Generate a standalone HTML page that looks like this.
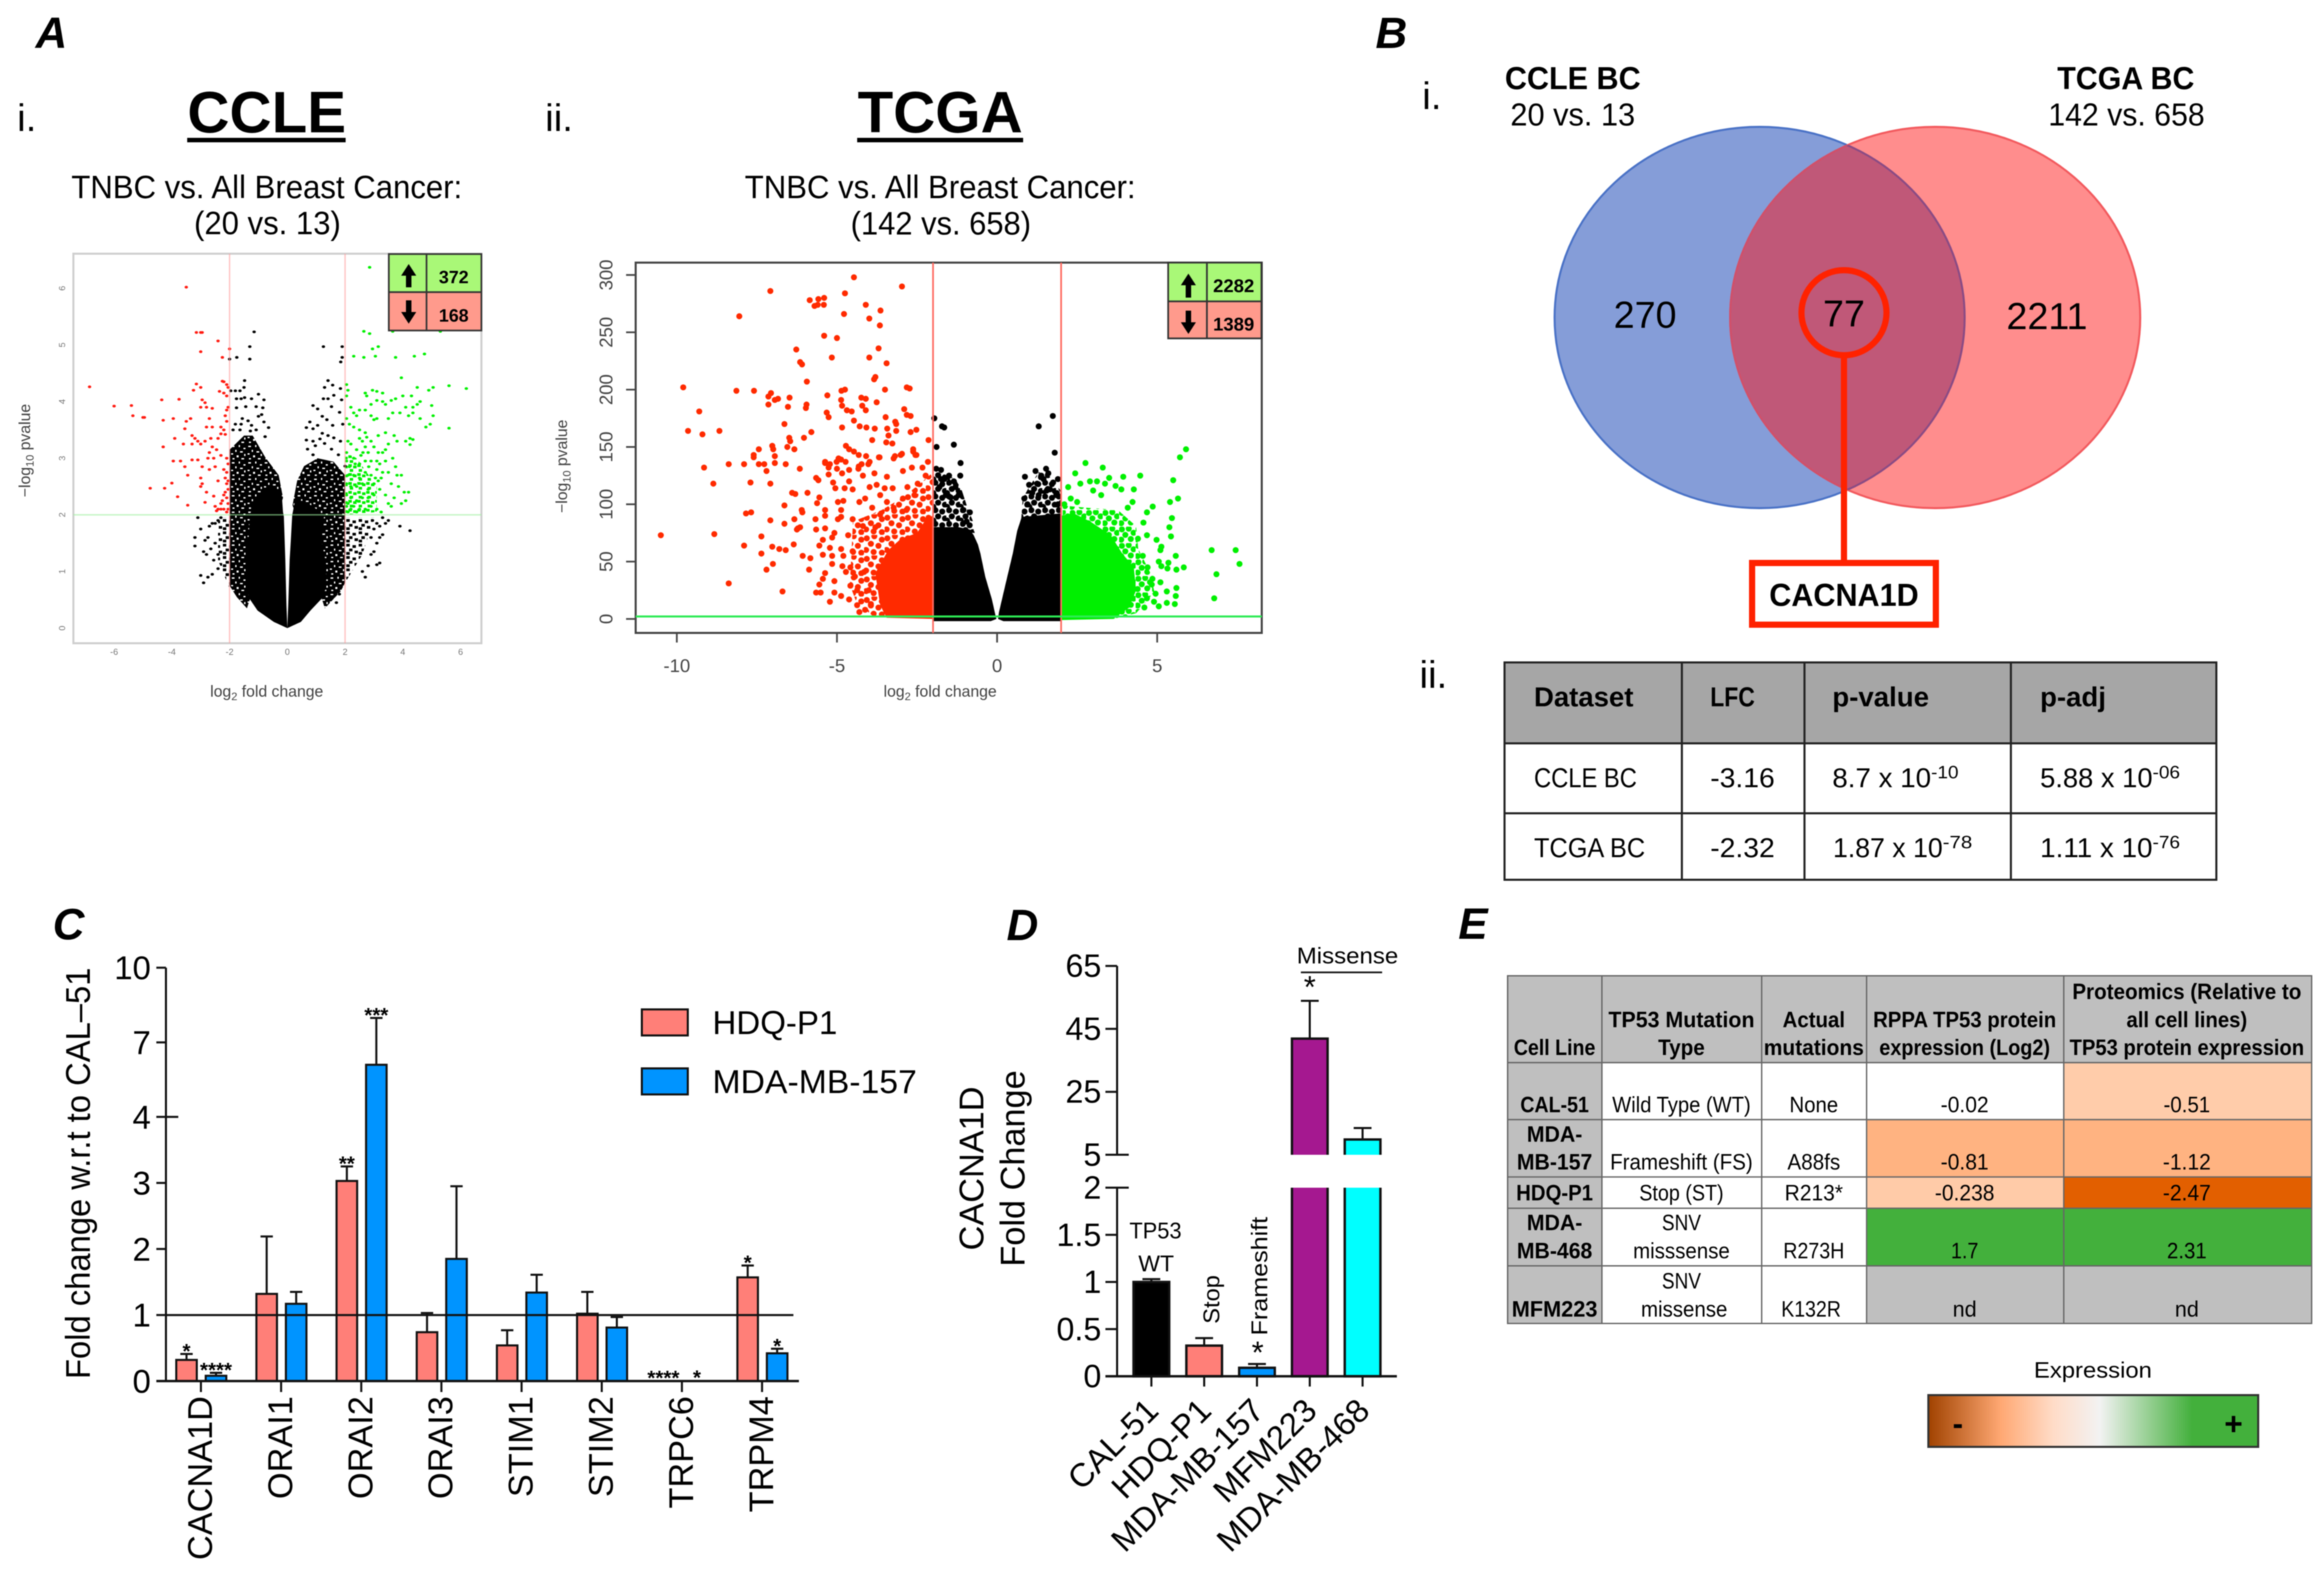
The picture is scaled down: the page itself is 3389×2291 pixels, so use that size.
<!DOCTYPE html>
<html lang="en">
<head>
<meta charset="utf-8">
<title>CACNA1D multi-panel figure</title>
<style>
html,body{margin:0;padding:0;background:#fff}
svg{display:block;filter:blur(.7px)}
text{font-family:"Liberation Sans",sans-serif;fill:#000}
</style>
</head>
<body>
<svg id="figure" xmlns="http://www.w3.org/2000/svg" width="3389" height="2291" viewBox="0 0 3389 2291">
<defs>
<pattern id="blackSpeckle" width="24" height="24" patternUnits="userSpaceOnUse">
<rect width="24" height="24" fill="#000"/>
<g fill="#fff"><rect x="2" y="2" width="4" height="2"/><rect x="12" y="1" width="2" height="3"/><rect x="19" y="5" width="3" height="2"/><rect x="7" y="8" width="2" height="3"/><rect x="14" y="10" width="4" height="2"/><rect x="1" y="13" width="3" height="2"/><rect x="20" y="14" width="2" height="3"/><rect x="9" y="16" width="3" height="3"/><rect x="16" y="20" width="4" height="2"/><rect x="3" y="20" width="3" height="2"/></g>
</pattern>
<pattern id="blackFringe" width="18" height="18" patternUnits="userSpaceOnUse">
<rect x="1" y="1" width="5" height="4"/><rect x="10" y="3" width="5" height="4"/><rect x="5" y="8" width="5" height="4"/><rect x="13" y="11" width="5" height="4"/><rect x="1" y="13" width="5" height="4"/>
</pattern>
<pattern id="blackBlob" width="20" height="20" patternUnits="userSpaceOnUse">
<circle cx="4" cy="4" r="4.4"/><circle cx="14" cy="6" r="4.4"/><circle cx="8" cy="13" r="4.4"/><circle cx="18" cy="16" r="4.4"/><circle cx="1" cy="19" r="4.4"/>
</pattern>
<pattern id="greenFringe" width="13" height="13" patternUnits="userSpaceOnUse" fill="#00f000">
<rect x="1" y="1" width="5" height="4"/><rect x="8" y="3" width="5" height="4"/><rect x="3" y="8" width="5" height="4"/>
</pattern>
<pattern id="redSpeckle" width="30" height="30" patternUnits="userSpaceOnUse" fill="#ff2a00">
<circle cx="4" cy="5" r="4.4"/><circle cx="15" cy="2" r="4.4"/><circle cx="26" cy="7" r="4.4"/><circle cx="10" cy="13" r="4.4"/><circle cx="21" cy="16" r="4.4"/><circle cx="3" cy="22" r="4.4"/><circle cx="14" cy="25" r="4.4"/><circle cx="26" cy="26" r="4.4"/>
</pattern>
<pattern id="greenSpeckle" width="24" height="24" patternUnits="userSpaceOnUse" fill="#00f000">
<circle cx="4" cy="4" r="4.4"/><circle cx="14" cy="3" r="4.4"/><circle cx="21" cy="9" r="4.4"/><circle cx="9" cy="12" r="4.4"/><circle cx="17" cy="18" r="4.4"/><circle cx="3" cy="19" r="4.4"/>
</pattern>
<clipPath id="blueClip"><ellipse cx="2566" cy="463" rx="299" ry="278"/></clipPath>
<clipPath id="redClip"><ellipse cx="2822" cy="463" rx="299" ry="278"/></clipPath>
<linearGradient id="expressionGradient" x1="0" x2="1" y1="0" y2="0">
<stop offset="0" stop-color="#a04200"/><stop offset=".22" stop-color="#ffa873"/><stop offset=".38" stop-color="#ffdcc8"/><stop offset=".52" stop-color="#f2f2f2"/><stop offset=".8" stop-color="#43b03c"/><stop offset="1" stop-color="#43b03c"/>
</linearGradient>
</defs>

<!-- Panel letters -->
<text x="75" y="70" font-size="64" font-weight="bold" font-style="italic" text-anchor="middle">A</text>
<text x="2029" y="70" font-size="64" font-weight="bold" font-style="italic" text-anchor="middle">B</text>
<text x="100" y="1370" font-size="64" font-weight="bold" font-style="italic" text-anchor="middle">C</text>
<text x="1491" y="1371" font-size="64" font-weight="bold" font-style="italic" text-anchor="middle">D</text>
<text x="2148" y="1369" font-size="64" font-weight="bold" font-style="italic" text-anchor="middle">E</text>

<!-- Panel A titles -->
<text x="25" y="191" font-size="56">i.</text>
<text x="795" y="191" font-size="56">ii.</text>
<text x="389" y="193" font-size="85" font-weight="bold" text-anchor="middle">CCLE</text>
<rect x="273" y="201" width="231" height="6.5" fill="#000"/>
<text x="1371" y="193" font-size="85" font-weight="bold" text-anchor="middle">TCGA</text>
<rect x="1250" y="201" width="242" height="6.5" fill="#000"/>
<text x="389" y="289" font-size="47" text-anchor="middle" textLength="570" lengthAdjust="spacingAndGlyphs">TNBC vs. All Breast Cancer:</text>
<text x="390" y="341.5" font-size="47" text-anchor="middle" textLength="214" lengthAdjust="spacingAndGlyphs">(20 vs. 13)</text>
<text x="1371" y="289" font-size="47" text-anchor="middle" textLength="570" lengthAdjust="spacingAndGlyphs">TNBC vs. All Breast Cancer:</text>
<text x="1372" y="342" font-size="47" text-anchor="middle" textLength="263" lengthAdjust="spacingAndGlyphs">(142 vs. 658)</text>

<g id="ccle-plot"></g>
<g id="tcga-plot"></g>

<!-- Inset count tables -->
<g>
<rect x="567" y="370.5" width="135" height="55.5" fill="#a9f877"/>
<rect x="567" y="426" width="135" height="56" fill="#ff9a8c"/>
<path d="M567 370.5H702V482H567ZM567 426H702M622 370.5V482" fill="none" stroke="#333" stroke-width="2.5"/>
<path d="M596 385 L607 402 L600 402 L600 419 L592 419 L592 402 L585 402Z" fill="#000"/>
<path d="M596 472 L607 455 L600 455 L600 438 L592 438 L592 455 L585 455Z" fill="#000"/>
<text x="661.7" y="413" font-size="26" font-weight="bold" text-anchor="middle">372</text>
<text x="661.7" y="469" font-size="26" font-weight="bold" text-anchor="middle">168</text>
</g>
<g>
<rect x="1703.5" y="383" width="136" height="56.5" fill="#a9f877"/>
<rect x="1703.5" y="439.5" width="136" height="54" fill="#ff9a8c"/>
<path d="M1703.5 383H1839.5V493.5H1703.5ZM1703.5 439.5H1839.5M1760 383V493.5" fill="none" stroke="#333" stroke-width="2.5"/>
<path d="M1733 399 L1744 416 L1737 416 L1737 434 L1729 434 L1729 416 L1722 416Z" fill="#000"/>
<path d="M1733 487 L1744 470 L1737 470 L1737 453 L1729 453 L1729 470 L1722 470Z" fill="#000"/>
<text x="1799" y="426" font-size="27" font-weight="bold" text-anchor="middle">2282</text>
<text x="1799" y="482" font-size="27" font-weight="bold" text-anchor="middle">1389</text>
</g>

<!-- Panel B venn -->
<text x="2074" y="159" font-size="56">i.</text>
<text x="2070" y="1003" font-size="56">ii.</text>
<text x="2293.5" y="130" font-size="46" font-weight="bold" text-anchor="middle" textLength="198" lengthAdjust="spacingAndGlyphs">CCLE BC</text>
<text x="2293.5" y="183" font-size="46" text-anchor="middle" textLength="182" lengthAdjust="spacingAndGlyphs">20 vs. 13</text>
<text x="3100" y="130" font-size="46" font-weight="bold" text-anchor="middle" textLength="200" lengthAdjust="spacingAndGlyphs">TCGA BC</text>
<text x="3101" y="183" font-size="46" text-anchor="middle" textLength="228" lengthAdjust="spacingAndGlyphs">142 vs. 658</text>
<ellipse cx="2566" cy="463" rx="299" ry="278" fill="#859dd8" stroke="#4a72c6" stroke-width="3"/>
<ellipse cx="2822" cy="463" rx="299" ry="278" fill="#ff8d8d" stroke="#f25a5e" stroke-width="3"/>
<ellipse cx="2822" cy="463" rx="299" ry="278" fill="#c05878" stroke="#d0506a" stroke-width="3" clip-path="url(#blueClip)"/>
<ellipse cx="2566" cy="463" rx="299" ry="278" fill="none" stroke="#8a4b84" stroke-width="3" clip-path="url(#redClip)"/>
<text x="2399" y="478" font-size="55" text-anchor="middle">270</text>
<text x="2689" y="476" font-size="55" text-anchor="middle">77</text>
<text x="2985" y="480" font-size="55" text-anchor="middle">2211</text>
<circle cx="2689" cy="456" r="62" fill="none" stroke="#ff2200" stroke-width="9"/>
<line x1="2689" y1="522" x2="2689" y2="817" stroke="#ff2200" stroke-width="9"/>
<rect x="2555" y="821" width="268" height="90" fill="#fff" stroke="#ff2200" stroke-width="9"/>
<text x="2689" y="883.5" font-size="46" font-weight="bold" text-anchor="middle" textLength="218" lengthAdjust="spacingAndGlyphs">CACNA1D</text>

<!-- Panel B table -->
<g>
<rect x="2194" y="966" width="1038" height="118" fill="#a6a6a6"/>
<path d="M2194 966H3232V1283H2194ZM2194 1084H3232M2194 1186H3232M2452.6 966V1283M2631.4 966V1283M2932.4 966V1283" fill="none" stroke="#222" stroke-width="3"/>
<text x="2237" y="1030" font-size="40" font-weight="bold" textLength="145" lengthAdjust="spacingAndGlyphs">Dataset</text>
<text x="2494" y="1030" font-size="40" font-weight="bold" textLength="65" lengthAdjust="spacingAndGlyphs">LFC</text>
<text x="2672" y="1030" font-size="40" font-weight="bold" textLength="141" lengthAdjust="spacingAndGlyphs">p-value</text>
<text x="2975" y="1030" font-size="40" font-weight="bold" textLength="96" lengthAdjust="spacingAndGlyphs">p-adj</text>
<text x="2237" y="1148" font-size="40" textLength="150" lengthAdjust="spacingAndGlyphs">CCLE BC</text>
<text x="2494" y="1148" font-size="40" textLength="94" lengthAdjust="spacingAndGlyphs">-3.16</text>
<text x="2672" y="1148" font-size="40" textLength="144" lengthAdjust="spacingAndGlyphs">8.7 x 10</text>
<text x="2816" y="1135" font-size="26" textLength="40" lengthAdjust="spacingAndGlyphs">-10</text>
<text x="2975" y="1148" font-size="40" textLength="164" lengthAdjust="spacingAndGlyphs">5.88 x 10</text>
<text x="3139" y="1135" font-size="26" textLength="40" lengthAdjust="spacingAndGlyphs">-06</text>
<text x="2237" y="1250" font-size="40" textLength="162" lengthAdjust="spacingAndGlyphs">TCGA BC</text>
<text x="2494" y="1250" font-size="40" textLength="94" lengthAdjust="spacingAndGlyphs">-2.32</text>
<text x="2673" y="1250" font-size="40" textLength="160" lengthAdjust="spacingAndGlyphs">1.87 x 10</text>
<text x="2833" y="1237" font-size="26" textLength="43" lengthAdjust="spacingAndGlyphs">-78</text>
<text x="2975" y="1250" font-size="40" textLength="164" lengthAdjust="spacingAndGlyphs">1.11 x 10</text>
<text x="3139" y="1237" font-size="26" textLength="40" lengthAdjust="spacingAndGlyphs">-76</text>
</g>

<g id="bar-c"></g>
<g id="bar-d"></g>

<!-- Panel E table -->
<g font-size="32">
<rect x="2198.5" y="1423" width="1172.5" height="507" fill="#fff"/>
<rect x="2198.5" y="1423" width="1172.5" height="126.6" fill="#bfbfbf"/>
<rect x="2198.5" y="1549.6" width="137.5" height="380.4" fill="#bfbfbf"/>
<rect x="3009.5" y="1549.6" width="361.5" height="83.2" fill="#ffccaa"/>
<rect x="2722" y="1632.8" width="649" height="83.6" fill="#ffb381"/>
<rect x="2722" y="1716.4" width="287.5" height="45.6" fill="#ffcba8"/>
<rect x="3009.5" y="1716.4" width="361.5" height="45.6" fill="#e25f00"/>
<rect x="2722" y="1762" width="649" height="84" fill="#43b03c"/>
<rect x="2722" y="1846" width="649" height="84" fill="#bfbfbf"/>
<path d="M2198.5 1423H3371V1930H2198.5ZM2198.5 1549.6H3371M2198.5 1632.8H3371M2198.5 1716.4H3371M2198.5 1762H3371M2198.5 1846H3371M2336 1423V1930M2569 1423V1930M2722 1423V1930M3009.5 1423V1930" fill="none" stroke="#666" stroke-width="2"/>
<g font-weight="bold" text-anchor="middle">
<text x="2267" y="1538.6" textLength="119" lengthAdjust="spacingAndGlyphs">Cell Line</text>
<text x="2452" y="1498" textLength="213" lengthAdjust="spacingAndGlyphs">TP53 Mutation</text>
<text x="2452" y="1538.6" textLength="68" lengthAdjust="spacingAndGlyphs">Type</text>
<text x="2645" y="1498" textLength="91" lengthAdjust="spacingAndGlyphs">Actual</text>
<text x="2645" y="1538.6" textLength="146" lengthAdjust="spacingAndGlyphs">mutations</text>
<text x="2865" y="1498" textLength="267" lengthAdjust="spacingAndGlyphs">RPPA TP53 protein</text>
<text x="2865" y="1538.6" textLength="249" lengthAdjust="spacingAndGlyphs">expression (Log2)</text>
<text x="3189" y="1457" textLength="334" lengthAdjust="spacingAndGlyphs">Proteomics (Relative to</text>
<text x="3189" y="1498" textLength="176" lengthAdjust="spacingAndGlyphs">all cell lines)</text>
<text x="3189" y="1538.6" textLength="342" lengthAdjust="spacingAndGlyphs">TP53 protein expression</text>
<text x="2267" y="1622" textLength="100" lengthAdjust="spacingAndGlyphs">CAL-51</text>
<text x="2267" y="1665" textLength="81" lengthAdjust="spacingAndGlyphs">MDA-</text>
<text x="2267" y="1705.5" textLength="110" lengthAdjust="spacingAndGlyphs">MB-157</text>
<text x="2267" y="1750.4" textLength="112" lengthAdjust="spacingAndGlyphs">HDQ-P1</text>
<text x="2267" y="1794" textLength="81" lengthAdjust="spacingAndGlyphs">MDA-</text>
<text x="2267" y="1835" textLength="110" lengthAdjust="spacingAndGlyphs">MB-468</text>
<text x="2267" y="1920" textLength="125" lengthAdjust="spacingAndGlyphs">MFM223</text>
</g>
<g text-anchor="middle">
<text x="2452" y="1622" textLength="202" lengthAdjust="spacingAndGlyphs">Wild Type (WT)</text>
<text x="2645" y="1622" textLength="71" lengthAdjust="spacingAndGlyphs">None</text>
<text x="2865" y="1622" textLength="70" lengthAdjust="spacingAndGlyphs">-0.02</text>
<text x="3189" y="1622" textLength="68" lengthAdjust="spacingAndGlyphs">-0.51</text>
<text x="2452" y="1705.5" textLength="208" lengthAdjust="spacingAndGlyphs">Frameshift (FS)</text>
<text x="2645" y="1705.5" textLength="77" lengthAdjust="spacingAndGlyphs">A88fs</text>
<text x="2865" y="1705.5" textLength="70" lengthAdjust="spacingAndGlyphs">-0.81</text>
<text x="3189" y="1705.5" textLength="70" lengthAdjust="spacingAndGlyphs">-1.12</text>
<text x="2452" y="1750.4" textLength="123" lengthAdjust="spacingAndGlyphs">Stop (ST)</text>
<text x="2645" y="1750.4" textLength="85" lengthAdjust="spacingAndGlyphs">R213*</text>
<text x="2865" y="1750.4" textLength="87" lengthAdjust="spacingAndGlyphs">-0.238</text>
<text x="3189" y="1750.4" textLength="70" lengthAdjust="spacingAndGlyphs">-2.47</text>
<text x="2452" y="1794" textLength="57" lengthAdjust="spacingAndGlyphs">SNV</text>
<text x="2452" y="1835" textLength="141" lengthAdjust="spacingAndGlyphs">misssense</text>
<text x="2645" y="1835" textLength="89" lengthAdjust="spacingAndGlyphs">R273H</text>
<text x="2865" y="1835" textLength="40" lengthAdjust="spacingAndGlyphs">1.7</text>
<text x="3189" y="1835" textLength="58" lengthAdjust="spacingAndGlyphs">2.31</text>
<text x="2452" y="1879" textLength="57" lengthAdjust="spacingAndGlyphs">SNV</text>
<text x="2456" y="1920" textLength="126" lengthAdjust="spacingAndGlyphs">missense</text>
<text x="2641" y="1920" textLength="87" lengthAdjust="spacingAndGlyphs">K132R</text>
<text x="2865" y="1920" textLength="35" lengthAdjust="spacingAndGlyphs">nd</text>
<text x="3189" y="1920" textLength="35" lengthAdjust="spacingAndGlyphs">nd</text>
</g>
</g>

<!-- Colour key -->
<g>
<text x="3052" y="2009" font-size="32" text-anchor="middle" textLength="172" lengthAdjust="spacingAndGlyphs">Expression</text>
<rect x="2812" y="2034.5" width="481" height="75.5" fill="url(#expressionGradient)" stroke="#333" stroke-width="3"/>
<text x="2855" y="2092" font-size="46" font-weight="bold" text-anchor="middle">-</text>
<text x="3257" y="2092" font-size="46" font-weight="bold" text-anchor="middle">+</text>
</g>
</svg>

<script>
/* ---------- CCLE volcano data (log2 fold change, -log10 p) ---------- */
const ccleXTicks = [-6,-4,-2,0,2,4,6];
const ccleYTicks = [0,1,2,3,4,5,6];
const ccleDown = [[-6.85,4.26],[-6,3.92],[-5.4,3.93],[-5.35,3.75],[-5,3.72],[-4.95,3.72],[-4.35,4.03],[-4.3,3.67],[-3.95,3.7],[-3.75,4.04],[-3.5,6.02],[-3.15,5.22],[-3,5.22],[-2.95,5.22],[-3,4.88],[-2.4,5.07],[-2.25,4.78],[-2,4.93],[-3.15,4.31],[-3,4.25],[-3.25,4.2],[-2.25,4.36],[-2.2,4.35],[-2.1,4.3],[-2.05,4.25],[-2.35,4.18],[-2.2,4.15],[-2.1,4.1],[-2.95,4.03],[-2.85,3.98],[-3,3.9],[-2.8,3.9],[-2.6,3.88],[-2.05,3.9],[-2.1,3.85],[-2.15,3.75],[-3.35,3.7],[-3.5,3.65],[-3.55,3.52],[-2.7,3.7],[-2.8,3.55],[-2.6,3.55],[-2.3,3.55],[-2.2,3.5],[-2.1,3.65],[-3.3,3.4],[-3.2,3.35],[-3.1,3.3],[-3.3,3.25],[-3,3.25],[-2.85,3.3],[-2.65,3.35],[-2.4,3.35],[-2.3,3.43],[-2.15,3.42],[-2.6,3.2],[-2.45,3.15],[-2.7,3.1],[-2.75,3],[-2.55,3],[-2.3,3.05],[-2.1,3],[-3.9,3.35],[-3.6,3.25],[-4.3,3.2],[-3.95,2.95],[-3.7,2.95],[-3.3,2.97],[-3.1,2.97],[-2.95,2.85],[-3.55,2.85],[-3.45,2.7],[-3,2.65],[-2.7,2.8],[-2.5,2.85],[-2.2,2.8],[-2.1,2.75],[-2.05,2.9],[-2.15,2.65],[-2.4,2.6],[-2.1,2.55],[-2.05,2.6],[-3,2.5],[-2.95,2.55],[-4.75,2.47],[-4.25,2.47],[-4,2.56],[-3.8,2.32],[-3.45,2.17],[-2.85,2.22],[-2.8,2.4],[-2.55,2.33],[-2.5,2.15],[-2.4,2.1],[-2.3,2.2],[-2.2,2.35],[-2.15,2.4],[-2.05,2.45],[-2.1,2.3],[-2.25,2.25],[-2.05,2.2],[-2.2,2.1],[-2.45,2.07],[-2.1,2.05],[-2.05,2.1],[-2.3,2.1]];
const ccleUp = [[2.85,6.37],[3.65,5.24],[5.3,5.24],[2.65,5.24],[2.85,5.2],[3.15,4.97],[2.95,4.93],[2.3,4.8],[2.65,4.78],[3.05,4.8],[3.75,4.78],[4.4,4.8],[4.75,4.84],[3.95,4.42],[2.05,4.3],[2.1,4.2],[2.05,4.1],[2.95,4.2],[3.1,4.18],[3.3,4.15],[2.7,4.15],[2.75,4.1],[3.6,4.02],[3.75,4.05],[4,4.1],[4.5,4.25],[4.9,4.2],[5.05,4.25],[5.6,4.28],[6.2,4.23],[4.6,4],[4.3,4.1],[5,3.93],[4.1,3.9],[4.35,3.9],[4.5,3.95],[3.1,4.02],[3.3,4],[3.4,3.95],[2.2,3.9],[2.5,3.85],[2.7,3.85],[2.9,3.95],[2.4,3.75],[2.3,3.8],[5.05,3.75],[4.95,3.6],[4.8,3.55],[5.6,3.53],[4.6,3.7],[4.35,3.8],[4.2,3.75],[3.9,3.8],[3.65,3.8],[3.5,3.7],[3.1,3.7],[3,3.68],[2.9,3.75],[4.1,3.3],[4.25,3.35],[4.35,3.33],[4.25,3.24],[2.05,3.7],[2.15,3.6],[2.3,3.55],[2.5,3.5],[2.7,3.45],[2.75,3.37],[2.5,3.35],[2.6,3.3],[2.7,3.2],[2.9,3.3],[3.15,3.4],[3.4,3.45],[3.7,3.4],[3.8,3.3],[3.5,3.25],[3.4,3.15],[3.3,3.1],[3,3.2],[3.15,3.1],[2.1,3.3],[2.2,3.25],[2.05,3.1],[2.4,3.15],[2.55,3.05],[2.3,3],[2.05,2.95],[2.15,2.85],[2.35,2.9],[2.5,2.9],[2.7,2.95],[2.9,2.95],[3.1,2.95],[3.4,2.95],[3.65,3],[3.75,2.85],[3.5,2.75],[3.3,2.75],[3.1,2.8],[2.9,2.7],[2.7,2.75],[2.5,2.65],[2.3,2.7],[2.1,2.7],[2.05,2.55],[2.2,2.5],[2.4,2.5],[2.6,2.55],[2.8,2.45],[3,2.55],[3.2,2.45],[3.4,2.35],[3.6,2.55],[3.8,2.7],[3.95,2.7],[3.85,2.5],[4.05,2.4],[4.2,2.4],[3.95,2.2],[4.1,2.25],[3.7,2.3],[3.5,2.2],[3.6,2.15],[3,2.35],[2.8,2.3],[2.6,2.3],[2.4,2.25],[2.2,2.3],[2.05,2.35],[2.1,2.2],[2.3,2.15],[2.5,2.1],[2.7,2.1],[2.9,2.15],[3.1,2.1],[3.25,2.05],[2.1,2.05],[2.05,2.15],[2.2,2.1],[2.4,2.05],[3.05,2.65],[3.15,2.6],[3.25,2.65],[2.82,2.85],[3.2,2.9],[2.62,3.1],[2.8,3.1]];
const ccleOther = [[-1.15,5.23],[-1.3,4.97],[-1.3,4.75],[-2,4.75],[-1.75,4.78],[1.25,4.97],[1.9,4.97],[1.9,4.78],[1.85,4.7],[-1.96,4.19],[-1.8,4.19],[-1.64,4.19],[-1.5,4.25],[-1.48,4.37],[-1.76,4.05],[-1.6,4.05],[-1.48,4.07],[-1.24,4.05],[-1,4.13],[-.81,4.03],[-1.76,3.89],[-1.44,3.91],[-1.08,3.91],[-.85,3.89],[-.89,3.77],[-1,3.74],[-1.56,3.7],[-1.36,3.66],[-1.8,3.6],[-1.6,3.6],[-1.24,3.58],[-1.08,3.5],[-.81,3.64],[-.65,3.54],[-1.88,3.5],[-1.64,3.5],[-1.28,3.48],[-.77,3.38],[1.41,4.37],[1.57,4.29],[1.29,4.25],[1.84,4.23],[1.25,4.05],[1.41,4.05],[1.61,4.11],[1.88,4.03],[.89,3.93],[1.05,3.87],[1.53,3.91],[1.81,3.81],[1.21,3.74],[1.37,3.68],[1.57,3.58],[1.92,3.6],[.78,3.64],[.66,3.54],[.89,3.52],[1.05,3.58],[1.21,3.44],[1.41,3.4],[1.61,3.36],[1.84,3.3],[.66,3.32],[.89,3.3],[1.13,3.34],[.7,3.16],[.97,3.22],[1.29,3.26],[1.53,3.16],[1.77,3.06],[.89,3.06],[2,2.86],[-3.1,1.95],[-3.2,1.6],[-3.2,1.45],[-3,1.75],[-2.85,1.55],[-2.75,1.6],[-2.7,1.8],[-2.6,1.85],[-2.5,1.85],[-2.4,1.9],[-2.3,1.95],[-2.9,1.35],[-2.8,1.3],[-2.65,1.4],[-2.5,1.5],[-2.4,1.3],[-2.55,1.2],[-2.4,1.05],[-2.6,.95],[-2.75,.9],[-2.9,.8],[-3,.93],[3.9,1.8],[4.25,1.72],[3.5,1.9],[3.4,1.85],[3.3,1.95],[3.2,1.8],[3.2,1.6],[3.3,1.65],[3,1.75],[3.1,1.5],[2.9,1.6],[2.9,1.3],[3,1.35],[3.2,1.15],[3.1,1.12],[2.8,1.1],[2.7,.9],[2.6,1],[1.7,.45],[1.8,.6],[2.95,1.9],[3.1,1.85]];
const ccleDenseLeftX = [0,-.47,-1.03,-1.31,-1.43,-1.43,-1.35,-1.3,-1.2,-.85,-.5,-.2,-.15,-.12,-.07,-.03];
const ccleDenseLeftP = [0,.11,.31,.52,.72,1.12,1.53,1.97,2.2,2.4,2.5,2.4,2.05,1.97,1.2,.4];
const ccleDenseRightX = [0,.47,.8,1.19,1.35,1.35,1.19,1.27,.9,.5,.25,.17,.08,.03];
const ccleDenseRightP = [0,.11,.31,.52,.72,1.12,1.53,1.97,2.15,2.25,2.2,2,1.2,.4];
const ccleLooseLeftX = [-1.4,-1.75,-2,-2,-1.5,-1.2,-.77,-.3,-.15];
const ccleLooseLeftP = [.35,.55,.75,3.15,3.4,3.4,3.02,2.7,2.3];
const ccleLooseRightX = [1.3,1.85,2,2,1.6,1.05,.58,.34,.18];
const ccleLooseRightP = [.35,.65,.8,2.7,2.94,3,2.86,2.6,2.17];
const ccleFringeLeftX = [-2,-2.4,-2.4,-2];
const ccleFringeLeftP = [.7,1.2,1.95,1.95];
const ccleFringeRightX = [2,2.6,3,2];
const ccleFringeRightP = [.8,1.3,1.95,1.95];
const ccleUpCoreX = [2,2,2.4,3.1,3.1];
const ccleUpCoreP = [2,3.1,3,2.5,2.05];

/* ---------- TCGA volcano data (log2 fold change, -log10 p) ---------- */
const tcgaXTicks = [-10,-5,0,5];
const tcgaYTicks = [0,50,100,150,200,250,300];
const tcgaDown = [[-10.5,73],[-9.8,202],[-9.65,164],[-9.3,181],[-9.2,161],[-9.15,132],[-8.86,118],[-8.83,74],[-8.67,164],[-8.38,135],[-8.38,31],[-8.14,199],[-8.05,264],[-7.9,135],[-7.9,64],[-7.84,92],[-7.68,93],[-7.7,119],[-7.59,199],[-7.6,143],[-7.6,141],[-7.44,148],[-7.44,135],[-7.36,72],[-7.36,57],[-7.27,135],[-7.2,129],[-7.2,43],[-7.08,286],[-7.14,187],[-7.06,197],[-7.14,194],[-7.02,151],[-6.99,148],[-7.08,118],[-7.08,86],[-7.02,63],[-7,48],[-6.94,142],[-6.94,136],[-6.94,191],[-6.84,192],[-6.8,61],[-6.7,24],[-6.64,99],[-6.64,83],[-6.64,170],[-6.6,135],[-6.55,150],[-6.53,185],[-6.48,193],[-6.49,158],[-6.46,155],[-6.33,148],[-6.27,235],[-6.15,224],[-6.09,222],[-6.16,131],[-6.15,80],[-6.07,55],[-5.97,184],[-5.94,207],[-6.03,158],[-5.95,187],[-5.8,163],[-5.85,278],[-5.7,273],[-5.58,279],[-5.4,280],[-5.6,274],[-5.41,274],[-5.4,247],[-5,245],[-5.16,228],[-4.75,284],[-4.78,266],[-4.47,298],[-4.1,274],[-3.99,262],[-3.64,269],[-3.66,256],[-3.7,236],[-3.99,228],[-3.45,223],[-3.8,211],[-3.84,209],[-2.97,290],[-3.5,200],[-2.82,202],[-2.73,201],[-5.3,195],[-4.86,199],[-4.75,200],[-4.87,191],[-4.84,186],[-5.32,180],[-5.26,176],[-4.69,182],[-4.54,181],[-4.24,193],[-4.1,192],[-4.21,186],[-4.1,182],[-3.76,189],[-3.48,176],[-2.9,183],[-2.82,178],[-2.7,177],[-3.18,172],[-3.15,170],[-2.52,165],[-2.7,163],[-4.47,173],[-4.84,167],[-4.29,168],[-4.08,167],[-3.82,166],[-3.9,156],[-3.43,166],[-3.39,160],[-3.15,164],[-3.46,154],[-3.27,153],[-4.72,151],[-4.62,148],[-4.47,146],[-4.32,143],[-3.67,141],[-4.09,142],[-4.95,140],[-5.37,136],[-5.22,135],[-5,131],[-4.84,127],[-4.32,133],[-4.02,135],[-3.19,142],[-2.97,144],[-2.62,148],[-2.52,143],[-2.14,156],[-5.37,137],[-5.26,132],[-5.01,137],[-4.87,139],[-4.73,137],[-4.62,130],[-4.33,131],[-4.23,135],[-3.98,137],[-3.69,141],[-3.23,140],[-3.01,143],[-2.62,146],[-2.55,143],[-2.16,137],[-2.94,129],[-2.66,132],[-2.33,132],[-2.23,125],[-3.44,124],[-3.83,127],[-4.19,125],[-5.26,126],[-5.65,123],[-5.58,121],[-5.12,119],[-4.62,120],[-5.05,114],[-4.76,114],[-4.51,113],[-3.98,115],[-3.76,117],[-3.51,114],[-3.26,114],[-2.8,115],[-2.48,118],[-6.3,109],[-5.92,110],[-5.55,106],[-5.62,101],[-4.97,102],[-4.8,103],[-4.3,102],[-4.12,105],[-3.65,108],[-3.44,102],[-3.9,97],[-2.94,105],[-2.58,108],[-5.37,95],[-4.87,95],[-3.23,97],[-2.83,95],[-6.08,93],[-5.37,90],[-4.87,89],[-4.51,87],[-3.65,91],[-6.33,87],[-5.67,87],[-4.97,87],[-4.19,81],[-3.8,80],[-6.22,79],[-5.65,78],[-5.37,79],[-5.08,75],[-4.65,73],[-5.44,69],[-5.15,71],[-5.55,64],[-5.22,62],[-4.87,61],[-4.51,59],[-5.83,53],[-5.44,56],[-5.15,55],[-4.8,55],[-5.87,43],[-5.37,40],[-5.15,48],[-4.83,46],[-4.58,45],[-5.44,35],[-5.08,33],[-4.72,41],[-5.55,30],[-5.65,23],[-5.51,23],[-5.08,23],[-4.87,20],[-4.62,17],[-5.22,15],[-4.37,12],[-3.94,13],[-4.3,6],[-4.12,8],[-4.44,37],[-4.15,41],[-4.58,29],[-4.37,25],[-4.01,25],[-6.25,78],[-6.35,65],[-6.6,60],[-6.4,110],[-6.1,95]];
const tcgaUp = [[5.9,148],[5.71,141],[5.5,121],[2.76,136],[3.3,132],[2.44,127],[3.5,123],[3.94,124],[4.47,125],[2.22,115],[3.12,120],[3.37,118],[3.7,116],[3.88,113],[4.27,113],[5.65,105],[5.4,102],[4.86,98],[4.68,93],[5.46,88],[5.38,80],[5.43,72],[4.57,84],[4.23,102],[4.08,97],[4.68,73],[4.98,69],[5.13,63],[5.1,60],[5.58,55],[5.35,49],[5.13,46],[5.05,50],[5.83,45],[5.6,43],[5.32,44],[6.7,60],[7.45,60],[7.57,48],[6.85,39],[6.78,18],[5.6,27],[5.58,20],[5.55,13],[5.3,24],[5.3,14],[5.05,11],[4.83,30],[4.68,18],[4.6,10],[2.9,120],[2.6,118],[2.3,105],[3,112],[3.25,108],[2.1,100],[2.5,102],[4.4,70],[4.55,55],[4.7,45],[4.85,35],[4.95,22],[5.1,32],[4.9,15]];
const tcgaOther = [[-1.96,175],[-1.72,168],[-1.65,167],[-1.35,152],[-1.89,150],[-1.14,136],[1.74,177],[1.3,168],[1.8,145],[.87,124],[1.2,129],[1.53,131],[1.6,127],[1.38,125],[1,117],[1.75,119],[.85,105],[-1.9,131],[-1.75,130],[-1.65,122],[-1.5,125],[-1.35,120],[-1.15,125],[-1.3,115],[-1.8,115],[-1.6,108],[-1.45,106],[-1.2,108],[-1.05,95],[-.85,93],[-.95,85],[-1.75,122],[1.25,118],[1.45,122],[1.65,113],[1.85,108],[1.1,110],[1.3,108],[1.55,112],[.95,100],[1.9,100],[1.9,122]];
const tcgaDownDenseX = [-2,-3.45,-3.65,-3.75,-3.8,-3.4,-3,-2.5,-2.2,-2];
const tcgaDownDenseP = [0,1,12,30,40,60,70,75,88,90];
const tcgaDownLooseX = [-2,-3.9,-4.4,-4.6,-4.55,-4.5,-3.6,-3,-2.4,-2];
const tcgaDownLooseP = [0,3,15,30,55,85,95,105,118,128];
const tcgaUpDenseX = [1.98,1.98,2.4,2.91,3.55,3.91,4.27,4.34,4.13,3.63];
const tcgaUpDenseP = [-1,90,92,85,73,57,45,25,10,0];
const tcgaUpLooseX = [3.63,4.34,4.63,4.91,4.77,4.41,4.34,3.77,2.77,2.05,2.05];
const tcgaUpLooseP = [0,5,14,24,41,61,81,95,97,99,60];
const tcgaOtherLeftX = [-2,-2,-1.2,-.85,-.73,-.6,-.52,-.37,-.16,-.05,-.02,-.2];
const tcgaOtherLeftP = [-2,80,80,78,73,65,57,37,17,3,0,-2];
const tcgaOtherRightX = [.03,.06,.27,.49,.63,.77,1.2,1.98,1.98,.2];
const tcgaOtherRightP = [0,6,31,57,77,89,90,92,-2,-2];
const tcgaCrestLeftX = [-2,-2,-1.8,-1.3,-1.1,-.9,-.75,-.7];
const tcgaCrestLeftP = [78,128,128,122,112,95,85,75];
const tcgaCrestRightX = [.75,.8,1,1.3,1.6,1.98,1.98];
const tcgaCrestRightP = [85,105,115,128,126,112,85];

/* ---------- Panel C data ---------- */
const cGenes = ['CACNA1D','ORAI1','ORAI2','ORAI3','STIM1','STIM2','TRPC6','TRPM4'];
const cHdqValues = [.32,1.32,3.03,.74,.54,1.02,.005,1.57];
const cHdqUpper = [.41,2.19,3.25,1.03,.77,1.35,.005,1.75];
const cHdqStars = ['*','','**','','','','****','*'];
const cMdaValues = [.08,1.17,6.1,1.85,1.34,.81,.01,.42];
const cMdaUpper = [.125,1.35,7.98,2.95,1.61,.97,.01,.49];
const cMdaStars = ['****','','***','','','','*','*'];
const cTicks = [0,1,2,3,4,7,10];
const cLegend = ['HDQ-P1','MDA-MB-157'];

/* ---------- Panel D data ---------- */
const dCells = ['CAL-51','HDQ-P1','MDA-MB-157','MFM223','MDA-MB-468'];
const dValues = [1,.325,.09,41.9,9.85];
const dUpper = [1.03,.405,.13,53.9,13.5];
const dColors = ['#000000','#ff7f78','#0094ff','#a51890','#00ffff'];
const dTicks = [0,.5,1,1.5,2,5,25,45,65];

const SVGNS = 'http://www.w3.org/2000/svg';
function node(parent, tag, attrs, text) {
  const el = document.createElementNS(SVGNS, tag);
  for (const k in attrs) el.setAttribute(k, attrs[k]);
  if (text !== undefined) el.textContent = text;
  parent.appendChild(el);
  return el;
}
function slug(s) { return String(s).toLowerCase().replace(/[^a-z0-9]+/g, '-'); }

/* ---------- Axis functions ---------- */
function xCcle(v) { return 419 + 42.1 * v; }
function yCcle(p) { return 916 - 82.6 * p; }
function xTcga(v) { return 1454 + 46.7 * v; }
function yTcga(p) { return 902.6 - 1.672 * p; }
function yC(v) { return v <= 4 ? 2014 - 96.3 * v : 1629 - (v - 4) * 36.3; }
function xC(i) { return 293 + 116.9 * i; }
function yD(v) { return v <= 2 ? 2007 - 137.5 * v : 1684 - (v - 5) * 4.59; }
function xD(i) { return 1679 + 77 * i; }

function polyPoints(xs, ps, fx, fy) {
  return xs.map(function (x, i) { return fx(x).toFixed(1) + ',' + fy(ps[i]).toFixed(1); }).join(' ');
}

/* ---------- CCLE volcano ---------- */
(function () {
  const g = document.getElementById('ccle-plot');
  const dense = [[ccleFringeLeftX, ccleFringeLeftP, 'url(#blackFringe)', 'ccle-left-fringe'],
    [ccleFringeRightX, ccleFringeRightP, 'url(#blackFringe)', 'ccle-right-fringe'],
    [ccleLooseLeftX, ccleLooseLeftP, 'url(#blackSpeckle)', 'ccle-left-wing-sparse'],
    [ccleLooseRightX, ccleLooseRightP, 'url(#blackSpeckle)', 'ccle-right-wing-sparse'],
    [ccleDenseLeftX, ccleDenseLeftP, '#000', 'ccle-left-wing-dense'],
    [ccleDenseRightX, ccleDenseRightP, '#000', 'ccle-right-wing-dense'],
    [ccleUpCoreX, ccleUpCoreP, 'url(#greenFringe)', 'ccle-up-dense-cloud']];
  dense.forEach(function (d) {
    const el = node(g, 'polygon', {points: polyPoints(d[0], d[1], xCcle, yCcle), fill: d[2]});
    
    
  });
  ccleOther.forEach(function (pt) {
    const el = node(g, 'ellipse', {cx: xCcle(pt[0]), cy: yCcle(pt[1]), rx: 2.5, ry: 2, fill: '#000'});
    
    
  });
  ccleDown.forEach(function (pt) {
    const el = node(g, 'ellipse', {cx: xCcle(pt[0]), cy: yCcle(pt[1]), rx: 2.5, ry: 2, fill: '#ff1a10'});
    
    
  });
  ccleUp.forEach(function (pt) {
    const el = node(g, 'ellipse', {cx: xCcle(pt[0]), cy: yCcle(pt[1]), rx: 2.5, ry: 2, fill: '#00f000'});
    
    
  });
  const box = node(g, 'rect', {x: 107, y: 370, width: 595, height: 568, fill: 'none', stroke: '#cfcfcf', 'stroke-width': 3});
  
  
  [-2, 2].forEach(function (v) {
    const l = node(g, 'line', {x1: xCcle(v), x2: xCcle(v), y1: 370, y2: 938, stroke: '#ff9c9c', 'stroke-opacity': .6, 'stroke-width': 2});
    
    
  });
  const h = node(g, 'line', {x1: 107, x2: 702, y1: yCcle(2), y2: yCcle(2), stroke: '#9cf09c', 'stroke-opacity': .6, 'stroke-width': 2});
  
  
  ccleXTicks.forEach(function (t) {
    const el = node(g, 'text', {x: xCcle(t), y: 955, 'font-size': 13, 'text-anchor': 'middle', style: 'fill:#777'}, t);
    
    
  });
  ccleYTicks.forEach(function (t) {
    const el = node(g, 'text', {x: 95, y: yCcle(t), 'font-size': 13, 'text-anchor': 'middle', transform: 'rotate(-90 95 ' + yCcle(t) + ')', style: 'fill:#777'}, t);
    
    
  });
  const xt = node(g, 'text', {x: 389, y: 1016, 'font-size': 23, 'text-anchor': 'middle', style: 'fill:#444'});
  
  
  xt.innerHTML = 'log<tspan font-size="16" dy="5">2</tspan><tspan dy="-5"> fold change</tspan>';
  const yt = node(g, 'text', {x: 44, y: 657, 'font-size': 23, 'text-anchor': 'middle', transform: 'rotate(-90 44 657)', style: 'fill:#444'});
  
  
  yt.innerHTML = '\u2212log<tspan font-size="16" dy="5">10</tspan><tspan dy="-5"> pvalue</tspan>';
})();

/* ---------- TCGA volcano ---------- */
(function () {
  const g = document.getElementById('tcga-plot');
  const dense = [[tcgaCrestLeftX, tcgaCrestLeftP, 'url(#blackBlob)', 'tcga-left-unchanged-crest'],
    [tcgaCrestRightX, tcgaCrestRightP, 'url(#blackBlob)', 'tcga-right-unchanged-crest'],
    [tcgaOtherLeftX, tcgaOtherLeftP, '#000', 'tcga-left-unchanged-mass'],
    [tcgaOtherRightX, tcgaOtherRightP, '#000', 'tcga-right-unchanged-mass'],
    [tcgaDownLooseX, tcgaDownLooseP, 'url(#redSpeckle)', 'tcga-down-sparse-cloud'],
    [tcgaDownDenseX, tcgaDownDenseP, '#ff2a00', 'tcga-down-dense-cloud'],
    [tcgaUpLooseX, tcgaUpLooseP, 'url(#greenSpeckle)', 'tcga-up-sparse-cloud'],
    [tcgaUpDenseX, tcgaUpDenseP, '#00f000', 'tcga-up-dense-cloud']];
  dense.forEach(function (d) {
    const el = node(g, 'polygon', {points: polyPoints(d[0], d[1], xTcga, yTcga), fill: d[2]});
    
    
  });
  tcgaOther.forEach(function (pt) {
    const el = node(g, 'circle', {cx: xTcga(pt[0]), cy: yTcga(pt[1]), r: 4.4, fill: '#000'});
    
    
  });
  tcgaDown.forEach(function (pt) {
    const el = node(g, 'circle', {cx: xTcga(pt[0]), cy: yTcga(pt[1]), r: 4.4, fill: '#ff2a00'});
    
    
  });
  tcgaUp.forEach(function (pt) {
    const el = node(g, 'circle', {cx: xTcga(pt[0]), cy: yTcga(pt[1]), r: 4.4, fill: '#00f000'});
    
    
  });
  const box = node(g, 'rect', {x: 927, y: 383, width: 913, height: 540, fill: 'none', stroke: '#444', 'stroke-width': 3});
  
  
  [-2, 2].forEach(function (v) {
    const l = node(g, 'line', {x1: xTcga(v), x2: xTcga(v), y1: 383, y2: 923, stroke: '#ff6a60', 'stroke-width': 2.5});
    
    
  });
  const h = node(g, 'line', {x1: 927, x2: 1840, y1: 899, y2: 899, stroke: '#2eeb55', 'stroke-width': 3});
  
  
  tcgaXTicks.forEach(function (t) {
    const tick = node(g, 'line', {x1: xTcga(t), x2: xTcga(t), y1: 923, y2: 937, stroke: '#444', 'stroke-width': 2.5});
    
    
    const el = node(g, 'text', {x: xTcga(t), y: 980, 'font-size': 27, 'text-anchor': 'middle', style: 'fill:#444'}, t);
    
    
  });
  tcgaYTicks.forEach(function (t) {
    const tick = node(g, 'line', {x1: 913, x2: 927, y1: yTcga(t), y2: yTcga(t), stroke: '#444', 'stroke-width': 2.5});
    
    
    const el = node(g, 'text', {x: 893, y: yTcga(t), 'font-size': 27, 'text-anchor': 'middle', transform: 'rotate(-90 893 ' + yTcga(t) + ')', style: 'fill:#444'}, t);
    
    
  });
  const xt = node(g, 'text', {x: 1371, y: 1016, 'font-size': 23, 'text-anchor': 'middle', style: 'fill:#444'});
  
  
  xt.innerHTML = 'log<tspan font-size="16" dy="5">2</tspan><tspan dy="-5"> fold change</tspan>';
  const yt = node(g, 'text', {x: 827, y: 680, 'font-size': 23, 'text-anchor': 'middle', transform: 'rotate(-90 827 680)', style: 'fill:#444'});
  
  
  yt.innerHTML = '\u2212log<tspan font-size="16" dy="5">10</tspan><tspan dy="-5"> pvalue</tspan>';
})();

/* ---------- Panel C bars ---------- */
(function () {
  const g = document.getElementById('bar-c');
  const series = [
    {vals: cHdqValues, upper: cHdqUpper, stars: cHdqStars, off: -21, color: '#ff7f78', name: 'hdq'},
    {vals: cMdaValues, upper: cMdaUpper, stars: cMdaStars, off: 22, color: '#0094ff', name: 'mda'}
  ];
  const BW = 30;
  series.forEach(function (s) {
    s.vals.forEach(function (v, i) {
      const cx = xC(i) + s.off;
      const top = yC(v), base = yC(0), up = yC(s.upper[i]);
      if (v > .02) {
        const err = node(g, 'path', {d: 'M' + cx + ' ' + top + 'V' + up + 'M' + (cx - 9) + ' ' + up + 'H' + (cx + 9), stroke: '#111', 'stroke-width': 3, fill: 'none'});
        
        
      }
      const bar = node(g, 'rect', {x: cx - BW / 2, y: top, width: BW, height: base - top, fill: s.color, stroke: '#111', 'stroke-width': v > .02 ? 3 : 1});
      
      
      if (s.stars[i]) {
        const st = node(g, 'text', {x: cx - (cGenes[i] === 'TRPC6' && s.name === 'hdq' ? 6 : 0), y: up - 11 + 17, 'font-size': 30, 'font-weight': 'bold', 'text-anchor': 'middle'}, s.stars[i]);
        
        
      }
    });
  });
  const axisY = node(g, 'line', {x1: 242, x2: 242, y1: yC(10), y2: yC(0), stroke: '#111', 'stroke-width': 3});
  
  
  const axisX = node(g, 'line', {x1: 228, x2: 1165, y1: yC(0), y2: yC(0), stroke: '#111', 'stroke-width': 3.5});
  
  
  const ref = node(g, 'line', {x1: 242, x2: 1157, y1: yC(1), y2: yC(1), stroke: '#111', 'stroke-width': 3});
  
  
  cTicks.forEach(function (t) {
    const tick = node(g, 'line', {x1: 228, x2: t === 4 ? 260 : 242, y1: yC(t), y2: yC(t), stroke: '#111', 'stroke-width': 3});
    
    
    const lb = node(g, 'text', {x: 220, y: yC(t) + 17, 'font-size': 48, 'text-anchor': 'end'}, t);
    
    
  });
  cGenes.forEach(function (name, i) {
    const tick = node(g, 'line', {x1: xC(i), x2: xC(i), y1: yC(0), y2: yC(0) + 16, stroke: '#111', 'stroke-width': 3});
    
    
    const bx = xC(i) + 16;
    const lb = node(g, 'text', {x: bx, y: 2036, 'font-size': 50, 'text-anchor': 'end', transform: 'rotate(-90 ' + bx + ' 2036)'}, name);
    
    
  });
  const title = node(g, 'text', {x: 131, y: 1711, 'font-size': 50, 'text-anchor': 'middle', textLength: 600, lengthAdjust: 'spacingAndGlyphs', transform: 'rotate(-90 131 1711)'}, 'Fold change w.r.t to CAL\u201351');
  
  
  const swatchColors = ['#ff7f78', '#0094ff'];
  const swatchTops = [1472, 1558];
  cLegend.forEach(function (name, i) {
    const sw = node(g, 'rect', {x: 936, y: swatchTops[i], width: 67, height: 38, fill: swatchColors[i], stroke: '#111', 'stroke-width': 3});
    
    
    const lb = node(g, 'text', {x: 1039, y: swatchTops[i] + 36, 'font-size': 48, textLength: i ? 298 : 182, lengthAdjust: 'spacingAndGlyphs'}, name);
    
    
  });
})();

/* ---------- Panel D bars ---------- */
(function () {
  const g = document.getElementById('bar-d');
  const BW = 52;
  dValues.forEach(function (v, i) {
    const cx = xD(i), l = cx - BW / 2, r = cx + BW / 2, base = yD(0), up = yD(dUpper[i]);
    const capW = 13;
    const err = node(g, 'path', {d: 'M' + cx + ' ' + yD(v) + 'V' + up + 'M' + (cx - capW) + ' ' + up + 'H' + (cx + capW), stroke: '#111', 'stroke-width': 3, fill: 'none'});
    
    
    if (v > 2) {
      const low = node(g, 'path', {d: 'M' + l + ' 1732V' + base + 'H' + r + 'V1732', fill: dColors[i], stroke: '#111', 'stroke-width': 3.5});
      
      
      const hi = node(g, 'path', {d: 'M' + l + ' 1684V' + yD(v) + 'H' + r + 'V1684', fill: dColors[i], stroke: '#111', 'stroke-width': 3.5});
      
      
    } else {
      const bar = node(g, 'rect', {x: l, y: yD(v), width: BW, height: base - yD(v), fill: dColors[i], stroke: '#111', 'stroke-width': 3.5});
      
      
    }
    const tick = node(g, 'line', {x1: cx, x2: cx, y1: base, y2: base + 15, stroke: '#111', 'stroke-width': 3});
    
    
    const ax = cx + 13;
    const lb = node(g, 'text', {x: ax, y: 2060, 'font-size': 48, 'text-anchor': 'end', transform: 'rotate(-45 ' + ax + ' 2060)'}, dCells[i]);
    
    
  });
  const a1 = node(g, 'line', {x1: 1629, x2: 1629, y1: yD(65), y2: yD(5), stroke: '#111', 'stroke-width': 3});
  
  
  const a2 = node(g, 'line', {x1: 1629, x2: 1629, y1: yD(2), y2: yD(0), stroke: '#111', 'stroke-width': 3});
  
  
  const a3 = node(g, 'line', {x1: 1612, x2: 2037, y1: yD(0), y2: yD(0), stroke: '#111', 'stroke-width': 3.5});
  
  
  dTicks.forEach(function (t) {
    const tick = node(g, 'line', {x1: 1612, x2: (t === 5 || t === 2) ? 1646 : 1629, y1: yD(t), y2: yD(t), stroke: '#111', 'stroke-width': 3});
    
    
    const lb = node(g, 'text', {x: 1606, y: yD(t) + 16, 'font-size': 47, 'text-anchor': 'end'}, t);
    
    
  });
  const t1 = node(g, 'text', {x: 1434, y: 1704, 'font-size': 50, 'text-anchor': 'middle', transform: 'rotate(-90 1434 1704)'}, 'CACNA1D');
  
  
  const t2 = node(g, 'text', {x: 1494, y: 1704, 'font-size': 50, 'text-anchor': 'middle', transform: 'rotate(-90 1494 1704)'}, 'Fold Change');
  
  
  const notes = [
    ['TP53', 1685, 1806, 33, 0, 76, 'annotation-tp53'],
    ['WT', 1686, 1854, 33, 0, 52, 'annotation-wt'],
    ['Missense', 1965, 1405, 33, 0, 148, 'annotation-missense'],
    ['*', 1834, 1988, 45, 0, 0, 'significance-mda-mb-157'],
    ['*', 1910, 1455, 45, 0, 0, 'significance-mfm223'],
    ['Stop', 1778, 1895, 33, -90, 71, 'annotation-stop'],
    ['Frameshift', 1848, 1861, 33, -90, 173, 'annotation-frameshift']
  ];
  notes.forEach(function (n) {
    const attrs = {x: n[1], y: n[2], 'font-size': n[3], 'text-anchor': 'middle'};
    if (n[5]) { attrs.textLength = n[5]; attrs.lengthAdjust = 'spacingAndGlyphs'; }
    if (n[4]) attrs.transform = 'rotate(' + n[4] + ' ' + n[1] + ' ' + n[2] + ')';
    const el = node(g, 'text', attrs, n[0]);
    
    
  });
  const br = node(g, 'line', {x1: 1897, x2: 2015.5, y1: 1418, y2: 1418, stroke: '#111', 'stroke-width': 2.5});
  
  
})();
</script>
</body>
</html>
